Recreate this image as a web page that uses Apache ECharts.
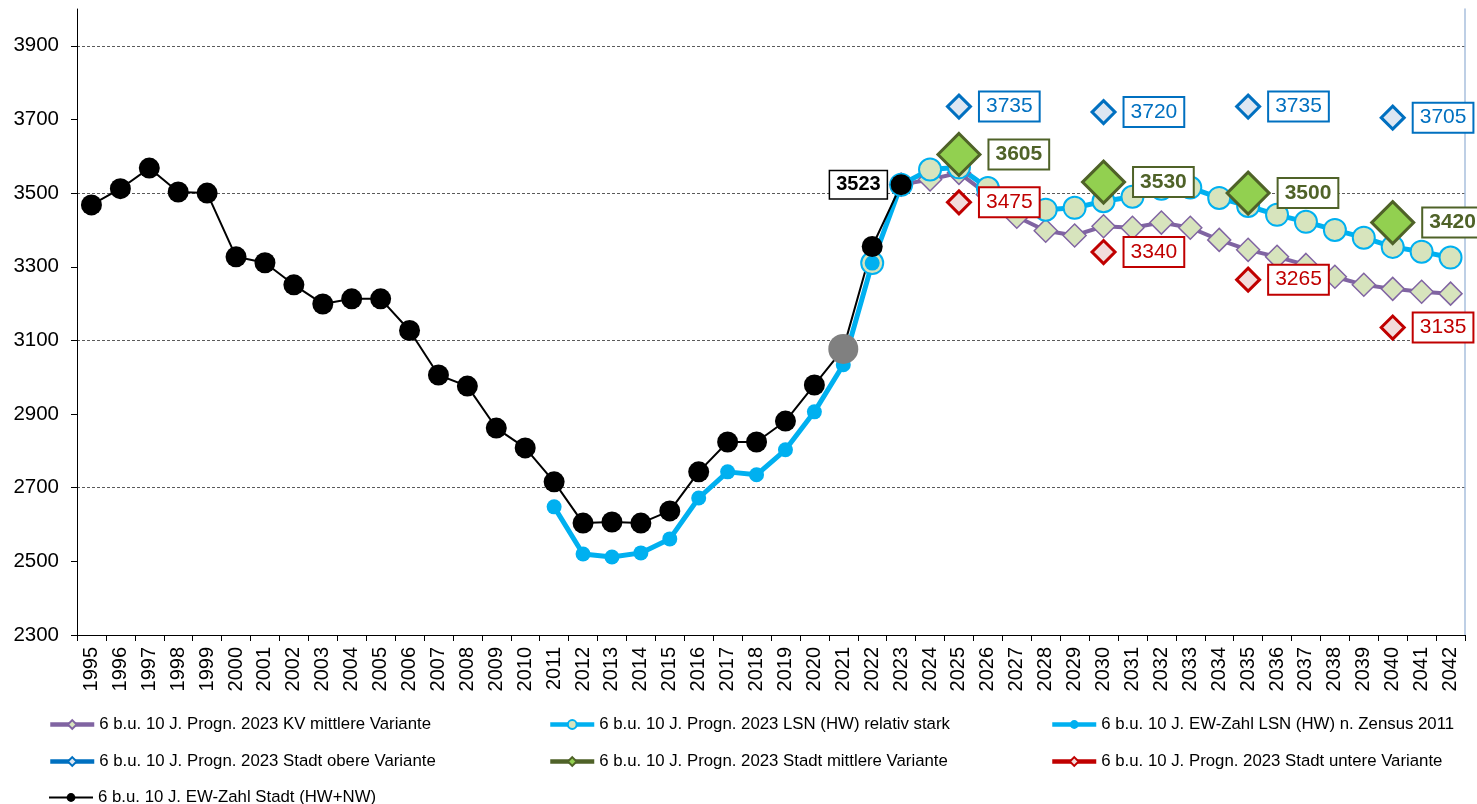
<!DOCTYPE html>
<html>
<head>
<meta charset="utf-8">
<script src="https://cdn.jsdelivr.net/npm/echarts@6/dist/echarts.min.js"></script>
<style>
	html, body { margin: 0; padding: 0; background: #fff; }
	#chart { width: 1477px; height: 804px; }
</style>
</head>
<body>
<div id="chart"></div>
<script>
// categories
const years = ['1995', '1996', '1997', '1998', '1999', '2000', '2001', '2002', '2003', '2004',
	'2005', '2006', '2007', '2008', '2009', '2010', '2011', '2012', '2013', '2014',
	'2015', '2016', '2017', '2018', '2019', '2020', '2021', '2022', '2023', '2024',
	'2025', '2026', '2027', '2028', '2029', '2030', '2031', '2032', '2033', '2034',
	'2035', '2036', '2037', '2038', '2039', '2040', '2041', '2042'];

// y tick labels
const yTicks = [2300, 2500, 2700, 2900, 3100, 3300, 3500, 3700, 3900];

// series names
const nameKV = '6 b.u. 10 J. Progn. 2023 KV mittlere Variante';
const nameLsnStark = '6 b.u. 10 J. Progn. 2023 LSN (HW) relativ stark';
const nameLsnEw = '6 b.u. 10 J. EW-Zahl LSN (HW) n. Zensus 2011';
const nameOben = '6 b.u. 10 J. Progn. 2023 Stadt obere Variante';
const nameMitte = '6 b.u. 10 J. Progn. 2023 Stadt mittlere Variante';
const nameUnten = '6 b.u. 10 J. Progn. 2023 Stadt untere Variante';
const nameStadt = '6 b.u. 10 J. EW-Zahl Stadt (HW+NW)';

// EW-Zahl Stadt, 1995..2023
const stadtStart = '1995';
const stadtValues = [3468, 3512, 3568, 3503, 3500, 3327, 3311, 3251, 3199, 3213,
	3213, 3127, 3006, 2976, 2862, 2808, 2716, 2604, 2607, 2604,
	2637, 2743, 2824, 2824, 2881, 2979, 3077, 3355, 3523];

// EW-Zahl LSN, 2011..2022
const lsnEwStart = '2011';
const lsnEwValues = [2648, 2520, 2512, 2523, 2561, 2672, 2743, 2735, 2803, 2906, 3034, 3310];

// LSN relativ stark, 2022..2042
const lsnStarkStart = '2022';
const lsnStarkValues = [3310, 3523, 3564, 3570, 3514, 3482, 3455, 3460, 3478, 3490,
	3512, 3515, 3487, 3465, 3441, 3422, 3400, 3379, 3354, 3341, 3325];

// KV mittlere Variante, 2023..2042
const kvStart = '2023';
const kvValues = [3523, 3537, 3555, 3496, 3436, 3398, 3385, 3410, 3406, 3420,
	3406, 3373, 3346, 3327, 3305, 3273, 3251, 3240, 3232, 3227];

// Stadt variants, every 5 years
const stadtYears = ['2025', '2030', '2035', '2040'];
const obenValues = [3735, 3720, 3735, 3705];
const mitteValues = [3605, 3530, 3500, 3420];
const untenValues = [3475, 3340, 3265, 3135];

const FONT = '"Liberation Sans", Arial, sans-serif';

function fromStart(start, values) {
	const s = years.indexOf(start);
	return years.map((y, k) => (k >= s && k - s < values.length) ? values[k - s] : null);
}

function atYears(values) {
	return years.map(y => {
		const i = stadtYears.indexOf(y);
		return i < 0 ? null : values[i];
	});
}

function boxLabel(color, bold) {
	return {
		show: true,
		position: 'right',
		distance: 8,
		formatter: '{c}',
		color: color,
		fontFamily: FONT,
		fontSize: 21,
		fontWeight: bold ? 'bold' : 'normal',
		backgroundColor: '#fff',
		borderColor: color,
		borderWidth: 2,
		padding: [4, 6, 3, 6]
	};
}

// black series: grey marker 2021, boxed label at 2023
const stadtData = fromStart(stadtStart, stadtValues).map((v, k) => {
	if (years[k] === '2021') {
		return { value: v, symbolSize: 30, itemStyle: { color: '#808080' } };
	}
	if (years[k] === '2023') {
		return {
			value: v,
			label: {
				show: true, position: 'left', distance: 4, formatter: '{c}',
				color: '#000', fontFamily: FONT, fontSize: 20, fontWeight: 'bold',
				backgroundColor: '#fff', borderColor: '#000', borderWidth: 1.5,
				padding: [4, 6, 3, 6]
			}
		};
	}
	return v;
});

const chart = echarts.init(document.getElementById('chart'), null, { renderer: 'canvas' });

const legendRows = [716, 753, 789];
const legendCols = [48, 548, 1050];
const legendNames = [
	[nameKV, nameLsnStark, nameLsnEw],
	[nameOben, nameMitte, nameUnten],
	[nameStadt]
];
const legends = [];
legendNames.forEach((row, r) => row.forEach((n, c) => {
	legends.push({
		data: [n],
		left: legendCols[c],
		top: legendRows[r],
		itemWidth: 44,
		itemHeight: 11,
		itemGap: 0,
		padding: 0,
		lineStyle: { width: n === nameStadt ? 2 : 4.5 },
		textStyle: { fontFamily: FONT, fontSize: 16.8, color: '#000' },
		selectedMode: false
	});
}));

const option = {
	animation: false,
	backgroundColor: '#fff',
	grid: { left: 77, right: 12, top: 9, bottom: 169, containLabel: false },
	legend: legends,
	xAxis: {
		type: 'category',
		data: years,
		boundaryGap: true,
		axisLine: { lineStyle: { color: '#000', width: 1 } },
		axisTick: { show: true, alignWithLabel: false, interval: 0, length: 6, lineStyle: { color: '#000' } },
		axisLabel: {
			interval: 0, rotate: 90, margin: 12,
			fontFamily: FONT, fontSize: 20, color: '#000'
		},
		splitLine: { show: false }
	},
	yAxis: [{
		type: 'value',
		min: 2300,
		max: 4000,
		interval: 100,
		axisLine: { show: true, lineStyle: { color: '#000', width: 1 } },
		axisTick: { show: true, length: 6, customValues: yTicks, lineStyle: { color: '#000' } },
		axisLabel: {
			customValues: yTicks,
			formatter: v => (yTicks.indexOf(v) >= 0 ? String(v) : ''),
			margin: 18, fontFamily: FONT, fontSize: 20.5, color: '#000'
		},
		splitLine: { show: true, lineStyle: { color: ['#5a5a5a', 'transparent'], type: [3, 2], width: 1 } }
	}, {
		type: 'value',
		position: 'right',
		min: 2300,
		max: 4000,
		axisLine: { show: true, lineStyle: { color: '#a9bfdd', width: 1.5 } },
		axisTick: { show: false },
		axisLabel: { show: false },
		splitLine: { show: false }
	}],
	series: [
		{
			name: nameKV, type: 'line', data: fromStart(kvStart, kvValues),
			symbol: 'diamond', symbolSize: 23, showAllSymbol: true,
			lineStyle: { color: '#8064a2', width: 4 },
			itemStyle: { color: '#d7e4bd', borderColor: '#8064a2', borderWidth: 1.5 }
		},
		{
			name: nameLsnStark, type: 'line', data: fromStart(lsnStarkStart, lsnStarkValues),
			symbol: 'circle', symbolSize: 22, showAllSymbol: true,
			lineStyle: { color: '#00b0f0', width: 5 },
			itemStyle: { color: '#d7e4bd', borderColor: '#00b0f0', borderWidth: 2 }
		},
		{
			name: nameLsnEw, type: 'line', data: fromStart(lsnEwStart, lsnEwValues),
			symbol: 'circle', symbolSize: 15, showAllSymbol: true,
			lineStyle: { color: '#00b0f0', width: 5 },
			itemStyle: { color: '#00b0f0', borderColor: '#00b0f0', borderWidth: 0 }
		},
		{
			name: nameOben, type: 'line', data: atYears(obenValues), connectNulls: false,
			symbol: 'diamond', symbolSize: 23, showAllSymbol: true,
			lineStyle: { color: '#0070c0', width: 4 },
			itemStyle: { color: '#dce6f2', borderColor: '#0070c0', borderWidth: 3 },
			label: boxLabel('#0070c0', false)
		},
		{
			name: nameMitte, type: 'line', data: atYears(mitteValues), connectNulls: false,
			symbol: 'diamond', symbolSize: 42, showAllSymbol: true,
			lineStyle: { color: '#4f6228', width: 4 },
			itemStyle: { color: '#92d050', borderColor: '#4f6228', borderWidth: 3 },
			label: boxLabel('#4f6228', true)
		},
		{
			name: nameUnten, type: 'line', data: atYears(untenValues), connectNulls: false,
			symbol: 'diamond', symbolSize: 23, showAllSymbol: true,
			lineStyle: { color: '#c00000', width: 4 },
			itemStyle: { color: '#f2dcdb', borderColor: '#c00000', borderWidth: 3 },
			label: boxLabel('#c00000', false)
		},
		{
			name: nameStadt, type: 'line', data: stadtData,
			symbol: 'circle', symbolSize: 21, showAllSymbol: true,
			lineStyle: { color: '#000', width: 2 },
			itemStyle: { color: '#000', borderWidth: 0 }
		}
	]
};

chart.setOption(option);
</script>
</body>
</html>
